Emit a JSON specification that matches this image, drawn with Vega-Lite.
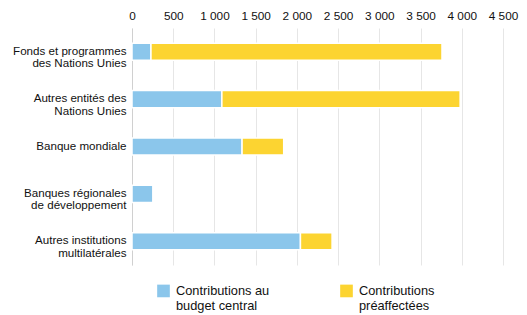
{
  "$schema": "https://vega.github.io/schema/vega-lite/v6.json",
  "autosize": "none",
  "width": 371,
  "height": 237,
  "padding": {"left": 132, "top": 28, "right": 24, "bottom": 50},
  "config": {
    "font": "Liberation Sans",
    "view": {"stroke": null}
  },
  "data": {
    "values": [
      {"category": "Fonds et programmes|des Nations Unies", "type": "Contributions au budget central", "value": 230},
      {"category": "Fonds et programmes|des Nations Unies", "type": "Contributions préaffectées", "value": 3530},
      {"category": "Autres entités des|Nations Unies", "type": "Contributions au budget central", "value": 1090},
      {"category": "Autres entités des|Nations Unies", "type": "Contributions préaffectées", "value": 2890},
      {"category": "Banque mondiale", "type": "Contributions au budget central", "value": 1335},
      {"category": "Banque mondiale", "type": "Contributions préaffectées", "value": 505},
      {"category": "Banques régionales|de développement", "type": "Contributions au budget central", "value": 255},
      {"category": "Banques régionales|de développement", "type": "Contributions préaffectées", "value": 0},
      {"category": "Autres institutions|multilatérales", "type": "Contributions au budget central", "value": 2043},
      {"category": "Autres institutions|multilatérales", "type": "Contributions préaffectées", "value": 384}
    ]
  },
  "mark": {"type": "bar", "stroke": "white", "strokeWidth": 1.5},
  "encoding": {
    "y": {
      "field": "category",
      "type": "nominal",
      "sort": null,
      "scale": {"paddingInner": 0.64, "paddingOuter": 0.32},
      "axis": {
        "title": null,
        "ticks": false,
        "domain": true,
        "domainColor": "#d0d0d0",
        "labelExpr": "split(datum.value, '|')",
        "labelFontSize": 11.6,
        "labelColor": "#111111",
        "labelPadding": 6,
        "labelLineHeight": 12.5
      }
    },
    "x": {
      "field": "value",
      "type": "quantitative",
      "stack": "zero",
      "scale": {"domain": [0, 4500], "nice": false},
      "axis": {
        "orient": "top",
        "title": null,
        "values": [0, 500, 1000, 1500, 2000, 2500, 3000, 3500, 4000, 4500],
        "labelExpr": "replace(format(datum.value, ','), ',', ' ')",
        "labelOverlap": false,
        "labelBound": false,
        "labelFlush": false,
        "ticks": false,
        "domain": false,
        "gridColor": "#e6e6e6",
        "gridWidth": 1,
        "labelFontSize": 11.8,
        "labelColor": "#111111",
        "labelPadding": 7
      }
    },
    "color": {
      "field": "type",
      "type": "nominal",
      "scale": {
        "domain": ["Contributions au budget central", "Contributions préaffectées"],
        "range": ["#8BC6EB", "#FCD431"]
      },
      "legend": {
        "title": null,
        "orient": "none",
        "legendX": 25,
        "legendY": 256,
        "direction": "horizontal",
        "columns": 2,
        "columnPadding": 70,
        "gridAlign": "all",
        "symbolType": "square",
        "symbolSize": 160,
        "symbolStrokeWidth": 0,
        "symbolOpacity": 1,
        "labelFontSize": 12.8,
        "labelColor": "#111111",
        "labelOffset": 6,
        "labelLimit": 200,
        "labelExpr": "datum.label == 'Contributions au budget central' ? ['Contributions au', 'budget central'] : ['Contributions', 'préaffectées']"
      }
    },
    "order": {"field": "type", "sort": "ascending"}
  }
}
